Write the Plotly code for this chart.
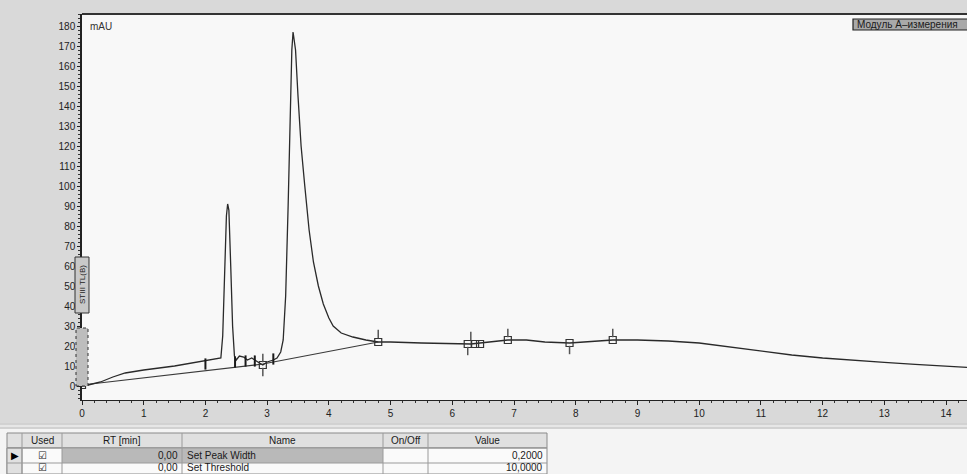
import plotly.graph_objects as go

# ---------------- data ----------------
time_min = [0.00, 0.10, 0.30, 0.50, 0.70, 1.00, 1.50, 2.00, 2.20, 2.25, 2.28, 2.31, 2.34,
            2.36, 2.38, 2.41, 2.44, 2.47, 2.50, 2.55, 2.62, 2.68, 2.75, 2.85, 2.93, 3.00,
            3.10, 3.16, 3.22, 3.26, 3.30, 3.34, 3.37, 3.40, 3.42, 3.46, 3.50, 3.55, 3.61,
            3.68, 3.75, 3.83, 3.91, 4.00, 4.07, 4.20, 4.39, 4.60, 4.80, 5.00, 5.50, 6.00,
            6.30, 6.60, 6.90, 7.20, 7.50, 7.90, 8.20, 8.60, 9.00, 9.50, 10.00, 10.50,
            11.00, 11.50, 12.00, 12.50, 13.00, 13.50, 14.00, 14.34]
signal_mau = [0.0, 0.5, 2.0, 4.5, 6.5, 8.0, 10.0, 12.5, 13.5, 14.0, 25.0, 55.0, 85.0,
              91.0, 88.0, 60.0, 30.0, 15.0, 13.0, 15.0, 14.5, 13.0, 14.0, 12.0, 10.5, 12.0,
              13.0, 14.0, 17.0, 23.0, 45.0, 90.0, 130.0, 168.0, 177.0, 168.0, 145.0, 120.0, 100.0,
              78.0, 62.0, 50.0, 41.0, 34.0, 30.0, 26.5, 24.5, 23.0, 22.0, 22.0, 21.5, 21.0,
              21.0, 22.0, 23.0, 23.0, 22.0, 21.5, 22.0, 23.0, 23.0, 22.5, 21.5, 19.5,
              17.5, 15.5, 14.0, 12.8, 11.8, 10.8, 10.0, 9.3]

baseline_time = [0.00, 2.93, 4.80]
baseline_mau = [0.5, 11.0, 22.0]

event_time = [0.00, 2.93, 4.80, 6.25, 6.37, 6.45, 6.90, 7.90, 8.60]
event_mau = [0.5, 10.5, 22.0, 21.0, 21.0, 21.0, 23.0, 21.5, 23.0]

flag_time = [4.80, 6.30, 6.90, 8.60, 2.93, 2.93, 6.25, 7.90]
flag_mau = [26.0, 25.0, 26.5, 26.5, 14.0, 7.0, 17.5, 18.0]

boundary_time = [2.00, 2.48, 2.65, 2.80, 3.10]
boundary_mau = [11.0, 12.0, 12.5, 12.5, 13.5]

x_ticks = list(range(0, 15))
y_ticks = list(range(0, 181, 10))

table_headers = ["Used", "RT [min]", "Name", "On/Off", "Value"]
table_rt = ["0,00", "0,00"]
table_name = ["Set Peak Width", "Set Threshold"]
table_value = ["0,2000", "10,0000"]

# ---------------- geometry helpers ----------------
W, H = 967, 474
L, T, B = 82, 14, 74
PW, PH = W - L, H - T - B


def px(x):
    return (x - L) / PW


def py(y):
    return (H - B - y) / PH


LINE = "#2a2a2a"
fig = go.Figure()

fig.add_trace(go.Scatter(x=baseline_time, y=baseline_mau, mode="lines",
                         line=dict(color="#3a3a3a", width=1.2), hoverinfo="skip"))
fig.add_trace(go.Scatter(x=time_min, y=signal_mau, mode="lines",
                         line=dict(color=LINE, width=1.3), hoverinfo="skip"))
fig.add_trace(go.Scatter(x=event_time, y=event_mau, mode="markers",
                         marker=dict(symbol="square-open", size=7, color="#333",
                                     line=dict(width=1.2, color="#333")), hoverinfo="skip"))
fig.add_trace(go.Scatter(x=flag_time, y=flag_mau, mode="markers",
                         marker=dict(symbol="line-ns-open", size=6, color="#555",
                                     line=dict(width=1.5, color="#555")), hoverinfo="skip"))
fig.add_trace(go.Scatter(x=boundary_time, y=boundary_mau, mode="markers",
                         marker=dict(symbol="line-ns-open", size=8, color="#1a1a1a",
                                     line=dict(width=2, color="#1a1a1a")), hoverinfo="skip"))

tickfont = dict(family="Liberation Sans, Arial, sans-serif", size=10, color="#222")

fig.update_layout(
    width=W, height=H,
    margin=dict(l=L, r=0, t=T, b=B, autoexpand=False),
    paper_bgcolor="#d9d9d9",
    plot_bgcolor="#f8f8f8",
    showlegend=False,
    xaxis=dict(range=[0, 14.34], tickvals=x_ticks, ticktext=[str(v) for v in x_ticks],
               showgrid=False, zeroline=False, showline=True, linecolor="#222", linewidth=1,
               ticks="outside", ticklen=4, tickcolor="#222", tickfont=tickfont,
               minor=dict(dtick=0.2, ticks="outside", ticklen=2, tickcolor="#333"),
               automargin=False, fixedrange=True),
    yaxis=dict(range=[-7, 186], tickvals=y_ticks, ticktext=[str(v) for v in y_ticks],
               showgrid=False, zeroline=False, showline=True, linecolor="#222", linewidth=1.5,
               ticks="outside", ticklen=3, tickcolor="#222", tickfont=tickfont,
               minor=dict(dtick=2, ticks="outside", ticklen=2, tickcolor="#333"),
               automargin=False, fixedrange=True),
)

shapes = []
annotations = []

# top frame line
shapes.append(dict(type="line", xref="paper", yref="paper", x0=0, x1=1, y0=1, y1=1,
                   line=dict(color="#333", width=2)))
# band under x labels and table area
shapes.append(dict(type="rect", xref="paper", yref="paper", x0=px(0), x1=px(W),
                   y0=py(423), y1=py(429), fillcolor="#e6e6e6", line=dict(width=0), layer="below"))
shapes.append(dict(type="line", xref="paper", yref="paper", x0=px(0), x1=px(W),
                   y0=py(424), y1=py(424), line=dict(color="#bdbdbd", width=1)))
shapes.append(dict(type="line", xref="paper", yref="paper", x0=px(0), x1=px(W),
                   y0=py(428), y1=py(428), line=dict(color="#bdbdbd", width=1)))
shapes.append(dict(type="rect", xref="paper", yref="paper", x0=px(0), x1=px(W),
                   y0=py(429), y1=py(H), fillcolor="#f4f4f4", line=dict(width=0), layer="below"))

# legend box (top right)
shapes.append(dict(type="rect", xref="paper", yref="paper", x0=px(853), x1=px(968),
                   y0=py(30), y1=py(19), fillcolor="#a9a9a9", line=dict(color="#222", width=1.2)))
annotations.append(dict(text="Модуль А–измерения", xref="paper", yref="paper",
                        x=px(855), y=py(24.5), xanchor="left", yanchor="middle", showarrow=False,
                        font=dict(family="Liberation Sans, Arial", size=10, color="#1a1a1a")))
# mAU label
annotations.append(dict(text="mAU", xref="paper", yref="paper", x=px(88), y=py(26),
                        xanchor="left", yanchor="middle", showarrow=False,
                        font=dict(family="Liberation Sans, Arial", size=10, color="#333")))
# vertical boxes on the y axis
shapes.append(dict(type="rect", xref="paper", yref="paper", x0=px(75), x1=px(89),
                   y0=py(313), y1=py(257), fillcolor="#c9c9c9", line=dict(color="#333", width=1)))
annotations.append(dict(text="STIII TL(B)", xref="paper", yref="paper", x=px(82), y=py(285),
                        textangle=-90, showarrow=False, xanchor="center", yanchor="middle",
                        font=dict(family="Liberation Sans, Arial", size=8, color="#222")))
shapes.append(dict(type="rect", xref="paper", yref="paper", x0=px(76), x1=px(88),
                   y0=py(386), y1=py(328), fillcolor="#bdbdbd",
                   line=dict(color="#333", width=1, dash="dot")))

# ---------------- table ----------------
col_edges = [7, 22, 62, 182, 383, 428, 547]
row_edges = [433, 448, 463, 474]
shapes.append(dict(type="rect", xref="paper", yref="paper", x0=px(col_edges[0]), x1=px(col_edges[-1]),
                   y0=py(row_edges[1]), y1=py(row_edges[0]), fillcolor="#e0e0e0",
                   line=dict(color="#8a8a8a", width=1)))
shapes.append(dict(type="rect", xref="paper", yref="paper", x0=px(col_edges[0]), x1=px(col_edges[-1]),
                   y0=py(row_edges[3]), y1=py(row_edges[1]), fillcolor="#fafafa",
                   line=dict(color="#8a8a8a", width=1)))
shapes.append(dict(type="rect", xref="paper", yref="paper", x0=px(col_edges[2]), x1=px(col_edges[4]),
                   y0=py(row_edges[2]), y1=py(row_edges[1]), fillcolor="#b9b9b9",
                   line=dict(width=0)))
shapes.append(dict(type="rect", xref="paper", yref="paper", x0=px(col_edges[0]), x1=px(col_edges[1]),
                   y0=py(row_edges[3]), y1=py(row_edges[1]), fillcolor="#e0e0e0",
                   line=dict(color="#8a8a8a", width=1)))
for xe in col_edges[1:-1]:
    shapes.append(dict(type="line", xref="paper", yref="paper", x0=px(xe), x1=px(xe),
                       y0=py(row_edges[3]), y1=py(row_edges[0]), line=dict(color="#9a9a9a", width=1)))
for ye in row_edges[1:3]:
    shapes.append(dict(type="line", xref="paper", yref="paper", x0=px(col_edges[0]), x1=px(col_edges[-1]),
                       y0=py(ye), y1=py(ye), line=dict(color="#9a9a9a", width=1)))

tfont = dict(family="Liberation Sans, Arial", size=10, color="#1a1a1a")
hdr_centers = [(col_edges[i] + col_edges[i + 1]) / 2 for i in range(1, 6)]
for c, h in zip(hdr_centers, table_headers):
    annotations.append(dict(text=h, xref="paper", yref="paper", x=px(c), y=py(440.5),
                            xanchor="center", yanchor="middle", showarrow=False, font=tfont))
row_mid = [455.5, 467.5]
row_font = [10, 10]
annotations.append(dict(text="▶", xref="paper", yref="paper", x=px(14.5), y=py(row_mid[0]),
                        xanchor="center", yanchor="middle", showarrow=False,
                        font=dict(family="DejaVu Sans", size=10, color="#000")))
for i in range(2):
    f = dict(tfont, size=row_font[i])
    annotations.append(dict(text="☑", xref="paper", yref="paper", x=px(42), y=py(row_mid[i]),
                            xanchor="center", yanchor="middle", showarrow=False,
                            font=dict(family="DejaVu Sans", size=row_font[i], color="#222")))
    annotations.append(dict(text=table_rt[i], xref="paper", yref="paper", x=px(180), y=py(row_mid[i]),
                            xanchor="right", yanchor="middle", showarrow=False, font=f))
    annotations.append(dict(text=table_name[i], xref="paper", yref="paper", x=px(185), y=py(row_mid[i]),
                            xanchor="left", yanchor="middle", showarrow=False, font=f))
    annotations.append(dict(text=table_value[i], xref="paper", yref="paper", x=px(545), y=py(row_mid[i]),
                            xanchor="right", yanchor="middle", showarrow=False, font=f))

fig.update_layout(shapes=shapes, annotations=annotations)
fig.write_html("out.html")
